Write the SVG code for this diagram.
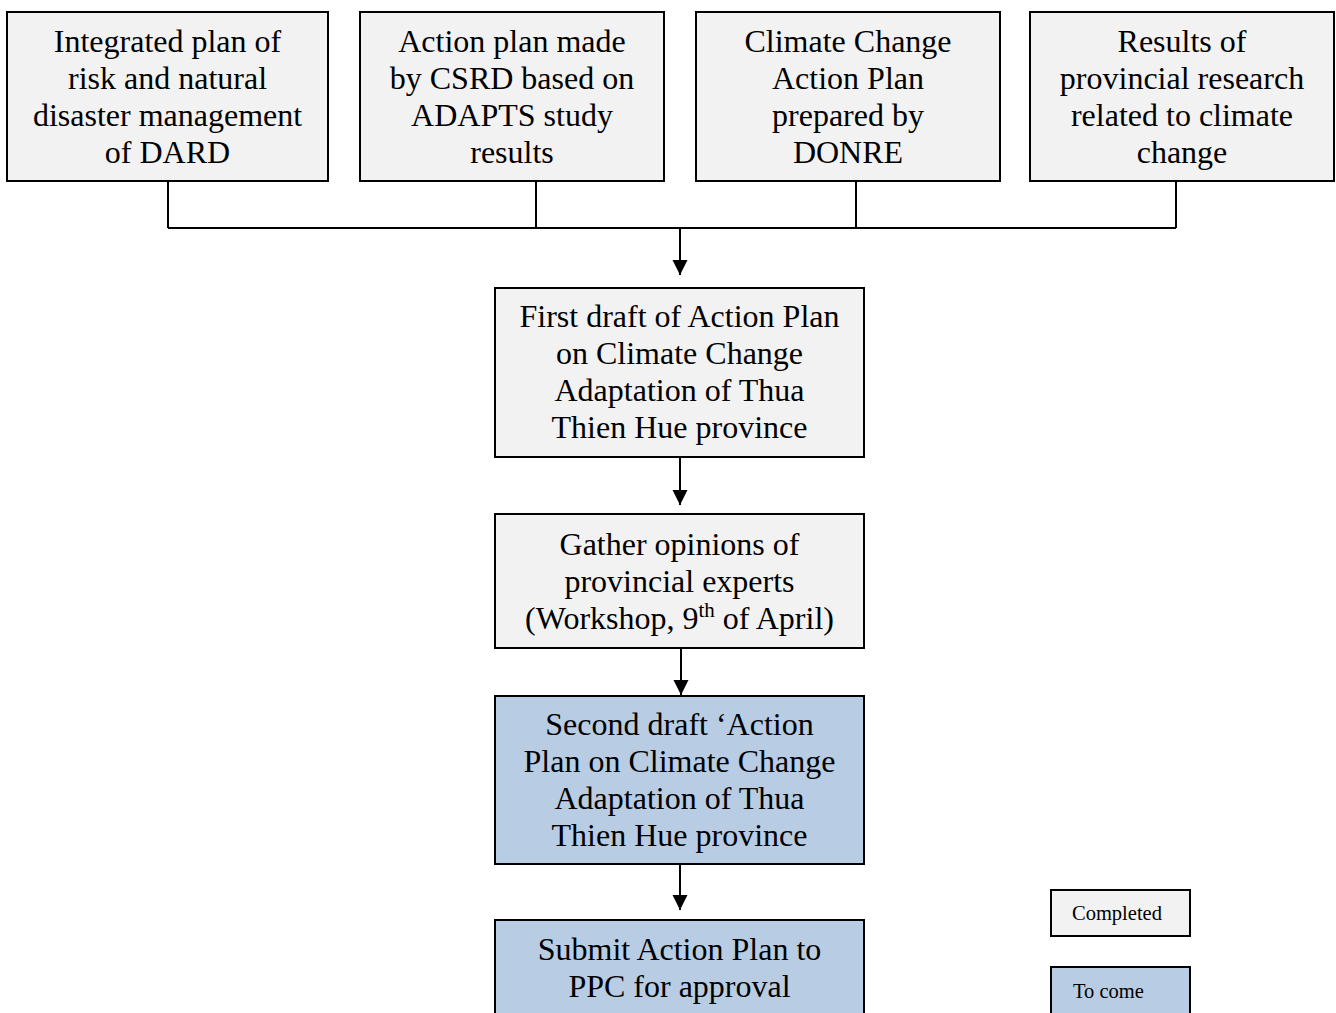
<svg xmlns="http://www.w3.org/2000/svg" width="1336" height="1013" viewBox="0 0 1336 1013">
<style>
.box{stroke:#000;stroke-width:2}
.done{fill:#f2f2f2}
.todo{fill:#b8cce4}
.t{font-family:"Liberation Serif","Times New Roman",serif;font-size:32px;fill:#000;text-anchor:middle}
.lg{font-family:"Liberation Serif","Times New Roman",serif;font-size:20.5px;fill:#000}
.c{fill:none;stroke:#000;stroke-width:2}
</style>
<defs>
<marker id="ah" markerUnits="userSpaceOnUse" markerWidth="16" markerHeight="16" refX="15" refY="7.5" orient="auto">
<path d="M0,0 L15,7.5 L0,15 Z" fill="#000"/>
</marker>
</defs>
<rect width="1336" height="1013" fill="#fff"/>
<g id="connectors">
<path class="c" d="M168,181 V228 M536,181 V228 M856,181 V228 M1176,181 V228 M168,228 H1176"/>
<line class="c" x1="680" y1="228" x2="680" y2="275" marker-end="url(#ah)"/>
<line class="c" x1="680" y1="457" x2="680" y2="505" marker-end="url(#ah)"/>
<line class="c" x1="681" y1="648" x2="681" y2="695" marker-end="url(#ah)"/>
<line class="c" x1="680" y1="864" x2="680" y2="910" marker-end="url(#ah)"/>
</g>
<g id="n1">
<rect class="box done" x="7" y="12" width="321" height="169"/>
<text class="t" x="167.5" y="52">Integrated plan of</text>
<text class="t" x="167.5" y="89">risk and natural</text>
<text class="t" x="167.5" y="126">disaster management</text>
<text class="t" x="167.5" y="163">of DARD</text>
</g>
<g id="n2">
<rect class="box done" x="360" y="12" width="304" height="169"/>
<text class="t" x="512" y="52">Action plan made</text>
<text class="t" x="512" y="89">by CSRD based on</text>
<text class="t" x="512" y="126">ADAPTS study</text>
<text class="t" x="512" y="163">results</text>
</g>
<g id="n3">
<rect class="box done" x="696" y="12" width="304" height="169"/>
<text class="t" x="848" y="52">Climate Change</text>
<text class="t" x="848" y="89">Action Plan</text>
<text class="t" x="848" y="126">prepared by</text>
<text class="t" x="848" y="163">DONRE</text>
</g>
<g id="n4">
<rect class="box done" x="1030" y="12" width="304" height="169"/>
<text class="t" x="1182" y="52">Results of</text>
<text class="t" x="1182" y="89">provincial research</text>
<text class="t" x="1182" y="126">related to climate</text>
<text class="t" x="1182" y="163">change</text>
</g>
<g id="n5">
<rect class="box done" x="495" y="288" width="369" height="169"/>
<text class="t" x="679.5" y="327">First draft of Action Plan</text>
<text class="t" x="679.5" y="364">on Climate Change</text>
<text class="t" x="679.5" y="401">Adaptation of Thua</text>
<text class="t" x="679.5" y="438">Thien Hue province</text>
</g>
<g id="n6">
<rect class="box done" x="495" y="514" width="369" height="134"/>
<text class="t" x="679.5" y="555">Gather opinions of</text>
<text class="t" x="679.5" y="592">provincial experts</text>
<text class="t" x="679.5" y="629">(Workshop, 9<tspan font-size="21" dy="-12">th</tspan><tspan dy="12"> of April)</tspan></text>
</g>
<g id="n7">
<rect class="box todo" x="495" y="696" width="369" height="168"/>
<text class="t" x="679.5" y="735">Second draft ‘Action</text>
<text class="t" x="679.5" y="772">Plan on Climate Change</text>
<text class="t" x="679.5" y="809">Adaptation of Thua</text>
<text class="t" x="679.5" y="846">Thien Hue province</text>
</g>
<g id="n8">
<rect class="box todo" x="495" y="920" width="369" height="110"/>
<text class="t" x="679.5" y="960">Submit Action Plan to</text>
<text class="t" x="679.5" y="997">PPC for approval</text>
</g>
<g id="legend-completed">
<rect class="box done" x="1051" y="890" width="139" height="46"/>
<text class="lg" x="1072" y="920">Completed</text>
</g>
<g id="legend-tocome">
<rect class="box todo" x="1051" y="967" width="139" height="60"/>
<text class="lg" x="1073" y="998">To come</text>
</g>
</svg>
